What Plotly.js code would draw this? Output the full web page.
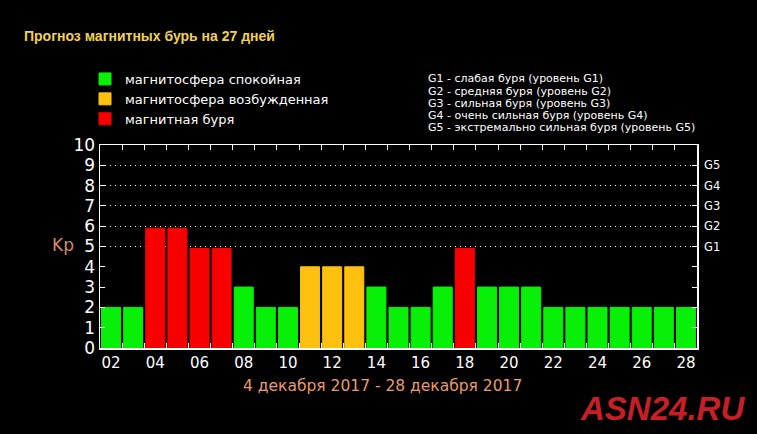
<!DOCTYPE html>
<html>
<head>
<meta charset="utf-8">
<script src="https://cdn.plot.ly/plotly-3.0.1.min.js"></script>
<style>html,body{margin:0;padding:0;background:#000;}#chart{width:757px;height:434px;}</style>
</head>
<body>
<div id="chart"></div>
<script>
// ---- data ----
const days = [2,3,4,5,6,7,8,9,10,11,12,13,14,15,16,17,18,19,20,21,22,23,24,25,26,27,28];
const kp =   [2,2,5.9,5.9,4.9,4.9,3,2,2,4,4,4,3,2,2,3,4.9,3,3,3,2,2,2,2,2,2,2];
const state = ['q','q','s','s','s','s','q','q','q','e','e','e','q','q','q','q','s','q','q','q','q','q','q','q','q','q','q'];
const xTickVals = [2,4,6,8,10,12,14,16,18,20,22,24,26,28];
const xTickText = ['02','04','06','08','10','12','14','16','18','20','22','24','26','28'];
const xBoundaries = [2.5,3.5,4.5,5.5,6.5,7.5,8.5,9.5,10.5,11.5,12.5,13.5,14.5,15.5,16.5,17.5,18.5,19.5,20.5,21.5,22.5,23.5,24.5,25.5,26.5,27.5];
const yTickVals = [0,1,2,3,4,5,6,7,8,9,10];
const gLevels = [5,6,7,8,9];
const gLabels = ['G1','G2','G3','G4','G5'];
const series = [
  {key:'q', name:'магнитосфера спокойная', color:'#08f008'},
  {key:'e', name:'магнитосфера возбужденная', color:'#ffc10e'},
  {key:'s', name:'магнитная буря', color:'#f80000'}
];
const gLines = [
  'G1 - слабая буря (уровень G1)',
  'G2 - средняя буря (уровень G2)',
  'G3 - сильная буря (уровень G3)',
  'G4 - очень сильная буря (уровень G4)',
  'G5 - экстремально сильная буря (уровень G5)'
];
const titleText = 'Прогноз магнитных бурь на 27 дней';
const xTitleText = '4 декабря 2017 - 28 декабря 2017';
const yTitleText = 'Kp';
const watermark = 'ASN24.RU';

// ---- traces ----
const traces = series.map(s => ({
  type:'bar',
  name:s.name,
  x:days,
  y:kp.map((v,i)=> state[i]===s.key ? v : null),
  marker:{color:s.color, line:{color:s.color, width:1}},
  hoverinfo:'x+y'
}));
traces.push({type:'scatter', x:[], y:[], xaxis:'x2', yaxis:'y2', showlegend:false, hoverinfo:'skip'});

const W = 757, H = 434;
const M = {l:100, r:60, t:145, b:86};
const pw = W - M.l - M.r, ph = H - M.t - M.b;
const px = x => (x - M.l) / pw;
const py = y => (H - M.b - y) / ph;

const annotations = [
  {text:titleText, xref:'paper', yref:'paper', x:px(22), y:py(36), xanchor:'left', yanchor:'middle', showarrow:false,
   font:{family:'Liberation Sans, Arial, sans-serif', size:14, color:'#f2d24c', weight:'bold'}},
  {text:yTitleText, xref:'paper', yref:'paper', x:px(63), y:py(245), xanchor:'center', yanchor:'middle', showarrow:false,
   font:{family:'DejaVu Sans, sans-serif', size:17, color:'#d98a68'}},
  {text:xTitleText, xref:'paper', yref:'paper', x:px(382), y:py(386), xanchor:'center', yanchor:'middle', showarrow:false,
   font:{family:'DejaVu Sans, sans-serif', size:15.5, color:'#ee9a6a'}},
  {text:watermark, xref:'paper', yref:'paper', x:px(747), y:py(408), xanchor:'right', yanchor:'middle', showarrow:false,
   font:{family:'Liberation Sans, sans-serif', size:33, color:'#c81e26', weight:'bold', style:'italic'}}
];
gLines.forEach((t,i)=>{
  annotations.push({text:t, xref:'paper', yref:'paper', x:px(426), y:py(79 + i*12.2), xanchor:'left', yanchor:'middle', showarrow:false,
    font:{family:'DejaVu Sans, sans-serif', size:11, color:'#ffffff'}});
});

const layout = {
  width:W, height:H,
  margin:M,
  paper_bgcolor:'#000', plot_bgcolor:'#000',
  barmode:'overlay', bargap:0.14,
  showlegend:true,
  legend:{x:px(85), y:py(64), xanchor:'left', yanchor:'top', bgcolor:'rgba(0,0,0,0)',
    font:{family:'DejaVu Sans, sans-serif', size:13, color:'#ffffff'}, tracegroupgap:0, traceorder:'normal'},
  xaxis:{range:[1.5,28.5], tickvals:xTickVals, ticktext:xTickText, ticks:'', showgrid:false, zeroline:false,
    showline:true, linecolor:'#ffffff', linewidth:1.5, mirror:true,
    tickfont:{family:'DejaVu Sans, sans-serif', size:15, color:'#ffffff'}},
  xaxis2:{overlaying:'x', anchor:'y', range:[1.5,28.5], tickvals:xBoundaries, ticks:'inside', ticklen:5, tickwidth:1,
    tickcolor:'#ffffff', showticklabels:false, showgrid:false, zeroline:false, showline:false, mirror:'ticks'},
  yaxis:{range:[0,10], tickvals:yTickVals, ticks:'inside', ticklen:5, tickwidth:1, tickcolor:'#ffffff',
    showgrid:false, zeroline:false, showline:true, linecolor:'#ffffff', linewidth:1.5, mirror:'ticks',
    tickfont:{family:'DejaVu Sans, sans-serif', size:17, color:'#ffffff'}},
  yaxis2:{overlaying:'y', side:'right', anchor:'x', range:[0,10], tickvals:gLevels, ticktext:gLabels, ticks:'',
    showgrid:true, gridcolor:'#ffffff', griddash:'1px,4px', gridwidth:1, zeroline:false, showline:false,
    tickfont:{family:'DejaVu Sans, sans-serif', size:11.5, color:'#ffffff'}, ticklabelstandoff:6},
  annotations:annotations
};

Plotly.newPlot('chart', traces, layout, {displayModeBar:false, staticPlot:true});
</script>
</body>
</html>
